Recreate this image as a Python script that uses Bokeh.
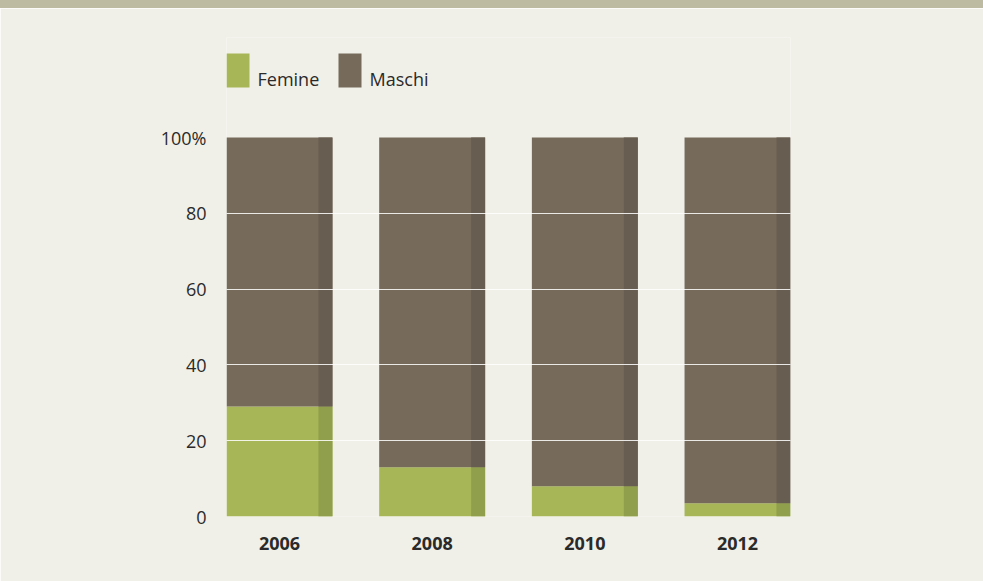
from bokeh.plotting import figure
from bokeh.layouts import column
from bokeh.models import FixedTicker, ColumnDataSource, Div, BoxAnnotation, Label
from bokeh.transform import dodge
from bokeh.embed import file_html
from bokeh.resources import INLINE

years = ["2006", "2008", "2010", "2012"]
femine = [29.0, 13.0, 8.0, 3.5]
maschi = [100 - f for f in femine]
y_ticks = [0, 20, 40, 60, 80, 100]
y_labels = ["0", "20", "40", "60", "80", "100%"]
series_names = ["Femine", "Maschi"]

BG = "#F1F0E8"
BAND = "#BDBBA2"
GREEN, GREEN_D = "#A7B656", "#909F4B"
BROWN, BROWN_D = "#766A5B", "#685D51"
TXT = "#2A2A2A"

xs = list(range(len(years)))
src = ColumnDataSource(dict(x=xs, f=femine, m=maschi,
                            mtop=[f + m for f, m in zip(femine, maschi)]))

p = figure(width=983, height=573, output_backend="svg", toolbar_location=None,
           x_range=(-0.347, 3.347), y_range=(0, 126.39),
           background_fill_color=BG, border_fill_color=BG,
           min_border_left=226, min_border_right=193,
           min_border_top=29, min_border_bottom=65)
p.outline_line_color = None

bw = 0.694
sw = 0.0917
p.vbar(x="x", bottom=0, top="f", width=bw, source=src, fill_color=GREEN, line_color=None)
p.vbar(x="x", bottom="f", top="mtop", width=bw, source=src, fill_color=BROWN, line_color=None)
p.vbar(x=dodge("x", 0.301), bottom=0, top="f", width=sw,
       source=src, fill_color=GREEN_D, line_color=None)
p.vbar(x=dodge("x", 0.301), bottom="f", top="mtop", width=sw,
       source=src, fill_color=BROWN_D, line_color=None)

p.xgrid.visible = False
p.ygrid.ticker = FixedTicker(ticks=[20, 40, 60, 80])
p.ygrid.grid_line_color = "white"
p.ygrid.grid_line_alpha = 0.85
p.ygrid.grid_line_width = 1
p.ygrid.level = "annotation"

p.yaxis.ticker = FixedTicker(ticks=y_ticks)
p.yaxis.major_label_overrides = {t: l for t, l in zip(y_ticks, y_labels)}
p.xaxis.ticker = FixedTicker(ticks=xs)
p.xaxis.major_label_overrides = {i: y for i, y in enumerate(years)}
for ax in (p.xaxis[0], p.yaxis[0]):
    ax.axis_line_color = None
    ax.major_tick_line_color = None
    ax.minor_tick_line_color = None
    ax.major_tick_out = 0
    ax.major_tick_in = 0
    ax.major_label_text_font = "Open Sans"
    ax.major_label_text_font_size = "18px"
    ax.major_label_text_color = TXT
p.yaxis.major_label_standoff = 20
p.xaxis.major_label_standoff = 20
p.xaxis.major_label_text_font_style = "bold"

# legend (screen units, relative to the plot frame)
for name, color, x0 in zip(series_names, [GREEN, BROWN], [0, 112]):
    p.add_layout(BoxAnnotation(left=x0, right=x0 + 23, bottom=429, top=463,
                               left_units="screen", right_units="screen",
                               bottom_units="screen", top_units="screen",
                               fill_color=color, fill_alpha=1, line_color=None,
                               level="annotation"))
    p.add_layout(Label(x=x0 + 31, y=438, x_units="screen", y_units="screen",
                       text=name, text_font="Open Sans", text_font_size="18px",
                       text_color=TXT, text_baseline="alphabetic"))

band = Div(text="", width=983, height=8,
           styles={"background-color": BAND, "margin": "0"})
layout = column(band, p, spacing=0)

open("out.html", "w").write(file_html(layout, INLINE))
